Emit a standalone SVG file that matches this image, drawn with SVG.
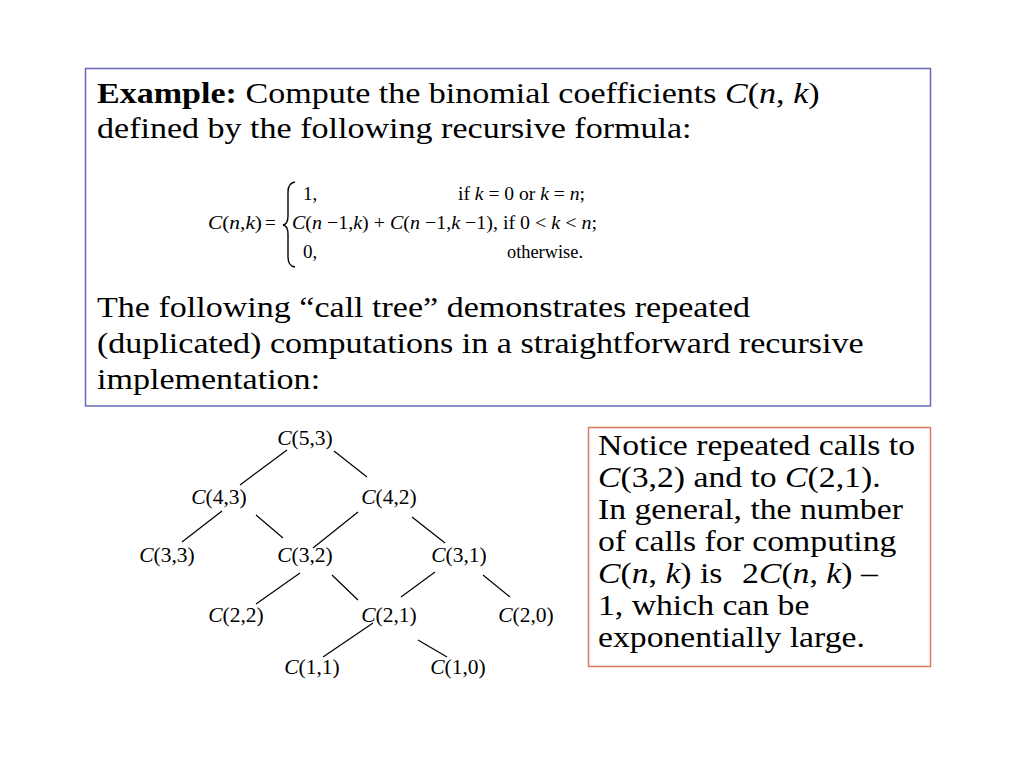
<svg xmlns="http://www.w3.org/2000/svg" width="1024" height="768" viewBox="0 0 1024 768">
<style>
text{font-family:"Liberation Serif","Times New Roman",serif;fill:#000}
.big{font-size:30px}
.note{font-size:29px}
.f{font-size:19px}
.n{font-size:21.5px;text-anchor:middle}
.i{font-style:italic}
.b{font-weight:bold}
.edge{stroke:#000;stroke-width:1.2;fill:none}
</style>
<rect width="1024" height="768" fill="#fff"/>
<g id="example-box">
<rect x="85.5" y="68.5" width="845" height="337.5" fill="#fff" stroke="#6a6ab8" stroke-width="1.5"/>
<g transform="translate(97 0) scale(1.135 1)">
<text class="big" x="0" y="103"><tspan class="b">Example:</tspan> Compute the binomial coefficients <tspan class="i">C</tspan>(<tspan class="i">n</tspan>, <tspan class="i">k</tspan>)</text>
<text class="big" x="0" y="138">defined by the following recursive formula:</text>
<text class="big" x="0" y="317">The following “call tree” demonstrates repeated</text>
<text class="big" x="0" y="353">(duplicated) computations in a straightforward recursive</text>
<text class="big" x="0" y="389">implementation:</text>
</g>
</g>
<g id="formula">
<text class="f" x="208" y="229" textLength="54" lengthAdjust="spacingAndGlyphs"><tspan class="i">C</tspan>(<tspan class="i">n</tspan>,<tspan class="i">k</tspan>)</text>
<text class="f" x="265" y="229">=</text>
<path d="M295 182 Q288 183 288 192 L288 216 Q288 224 283 225 Q288 226 288 234 L288 257 Q288 266 295 267" fill="none" stroke="#000" stroke-width="1.4"/>
<text class="f" x="303" y="200">1,</text>
<text class="f" x="458" y="200" textLength="127" lengthAdjust="spacingAndGlyphs">if <tspan class="i">k</tspan> = 0 or <tspan class="i">k</tspan> = <tspan class="i">n</tspan>;</text>
<text class="f" x="292" y="229" textLength="305" lengthAdjust="spacingAndGlyphs"><tspan class="i">C</tspan>(<tspan class="i">n</tspan> −1,<tspan class="i">k</tspan>) + <tspan class="i">C</tspan>(<tspan class="i">n</tspan> −1,<tspan class="i">k</tspan> −1), if 0 &lt; <tspan class="i">k</tspan> &lt; <tspan class="i">n</tspan>;</text>
<text class="f" x="303" y="258">0,</text>
<text class="f" x="507" y="258" textLength="76" lengthAdjust="spacingAndGlyphs">otherwise.</text>
</g>
<g id="connectors">
<line class="edge" x1="287" y1="450" x2="240" y2="485"/>
<line class="edge" x1="334" y1="451" x2="367" y2="477"/>
<line class="edge" x1="222" y1="511" x2="182" y2="542"/>
<line class="edge" x1="256" y1="515" x2="283" y2="538"/>
<line class="edge" x1="358" y1="512" x2="313" y2="548"/>
<line class="edge" x1="412" y1="517" x2="445" y2="543"/>
<line class="edge" x1="300" y1="573" x2="256" y2="604"/>
<line class="edge" x1="332" y1="575" x2="358" y2="600"/>
<line class="edge" x1="435" y1="572" x2="401" y2="597"/>
<line class="edge" x1="483" y1="575" x2="510" y2="597"/>
<line class="edge" x1="373" y1="623" x2="323" y2="657"/>
<line class="edge" x1="418" y1="640" x2="447" y2="657"/>
</g>
<g id="n53"><text class="n" x="305" y="445"><tspan class="i">C</tspan>(5,3)</text></g>
<g id="n43"><text class="n" x="219" y="504"><tspan class="i">C</tspan>(4,3)</text></g>
<g id="n42"><text class="n" x="389" y="504"><tspan class="i">C</tspan>(4,2)</text></g>
<g id="n33"><text class="n" x="167" y="562"><tspan class="i">C</tspan>(3,3)</text></g>
<g id="n32"><text class="n" x="305" y="562"><tspan class="i">C</tspan>(3,2)</text></g>
<g id="n31"><text class="n" x="459" y="562"><tspan class="i">C</tspan>(3,1)</text></g>
<g id="n22"><text class="n" x="236" y="622"><tspan class="i">C</tspan>(2,2)</text></g>
<g id="n21"><text class="n" x="389" y="622"><tspan class="i">C</tspan>(2,1)</text></g>
<g id="n20"><text class="n" x="526" y="622"><tspan class="i">C</tspan>(2,0)</text></g>
<g id="n11"><text class="n" x="312" y="674"><tspan class="i">C</tspan>(1,1)</text></g>
<g id="n10"><text class="n" x="458" y="674"><tspan class="i">C</tspan>(1,0)</text></g>
<g id="note-box">
<rect x="588.5" y="427.5" width="342" height="239" fill="#fff" stroke="#e07a5f" stroke-width="1.5"/>
<g transform="translate(598 0) scale(1.162 1)">
<text class="note" x="0" y="455">Notice repeated calls to</text>
<text class="note" x="0" y="487"><tspan class="i">C</tspan>(3,2) and to <tspan class="i">C</tspan>(2,1).</text>
<text class="note" x="0" y="519">In general, the number</text>
<text class="note" x="0" y="551">of calls for computing</text>
<text class="note" x="0" y="583"><tspan class="i">C</tspan>(<tspan class="i">n</tspan>, <tspan class="i">k</tspan>) is <tspan x="124">2<tspan class="i">C</tspan>(<tspan class="i">n</tspan>, <tspan class="i">k</tspan>) –</tspan></text>
<text class="note" x="0" y="615">1, which can be</text>
<text class="note" x="0" y="647">exponentially large.</text>
</g>
</g>
</svg>
